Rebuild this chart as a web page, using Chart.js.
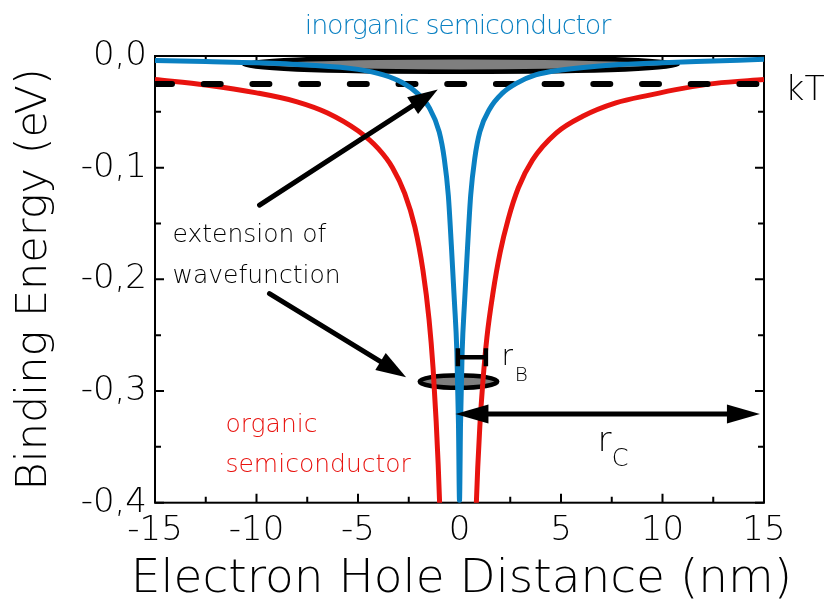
<!DOCTYPE html>
<html>
<head>
<meta charset="utf-8">
<script src="https://cdn.jsdelivr.net/npm/chart.js@4.4.1/dist/chart.umd.min.js"></script>
<style>
  html, body { margin: 0; padding: 0; background: #fff; overflow: hidden; }
  canvas { display: block; }
</style>
</head>
<body>
<canvas id="c" width="827" height="600"></canvas>
<script>
// Exciton binding energy vs. electron-hole distance
const FONT = "'DejaVu Sans', 'Liberation Sans', sans-serif";
const THIN = 200;
const BLUE = '#0a80c2';
const RED = '#e8130f';

const xTitle = 'Electron Hole Distance (nm)';
const yTitle = 'Binding Energy (eV)';
const xTickLabels = ['-15', '-10', '-5', '0', '5', '10', '15'];
const yTickLabels = ['-0,4', '-0,3', '-0,2', '-0,1', '0,0'];

// inorganic semiconductor (Wannier exciton)
const inorganicX = [-15, -12.5, -10, -7.5, -5, -3.75, -2.8, -2.1, -1.5, -1.0, -0.75, -0.55, -0.4, -0.25, -0.13, -0.05, 0,
                    0.05, 0.13, 0.25, 0.4, 0.55, 0.75, 1.0, 1.5, 2.1, 2.8, 3.75, 5, 7.5, 10, 12.5, 15];
const inorganicE = [-0.004, -0.005, -0.006, -0.008, -0.012, -0.017, -0.024, -0.033, -0.046, -0.068, -0.092, -0.125, -0.17, -0.22, -0.265, -0.33, -0.398,
                    -0.33, -0.265, -0.22, -0.17, -0.125, -0.092, -0.068, -0.047, -0.0335, -0.0245, -0.017, -0.0126, -0.008, -0.006, -0.0045, -0.003];

// organic semiconductor (Frenkel exciton), both branches
const organicLeftX = [-15, -12.5, -10, -8, -6.5, -5, -4, -3.3, -2.7, -2.2, -1.8, -1.5, -1.3, -1.15, -1.05, -0.98, -0.95];
const organicLeftE = [-0.021, -0.026, -0.033, -0.041, -0.051, -0.067, -0.083, -0.100, -0.123, -0.153, -0.192, -0.236, -0.28, -0.327, -0.366, -0.40, -0.42];
const organicRightX = [0.80, 0.83, 0.9, 1.0, 1.15, 1.35, 1.65, 2.0, 2.4, 2.9, 3.6, 4.76, 6.07, 7.7, 9.36, 11, 12.6, 15];
const organicRightE = [-0.42, -0.40, -0.368, -0.332, -0.292, -0.252, -0.212, -0.176, -0.146, -0.118, -0.093, -0.069, -0.054, -0.042, -0.035, -0.029, -0.0245, -0.021];

// thermal energy at room temperature
const kT = 0.025;

const pts = (xs, es) => xs.map((v, i) => ({ x: v, y: es[i] }));

// wavefunction extent (centre, half-axes) in data units
const wavefunctionSpots = [
  { x: 0.07, y: -0.0076, rx: 10.68, ry: 0.0065 },
  { x: -0.05, y: -0.2915, rx: 1.91, ry: 0.0056 }
];

// annotation arrows (tail -> tip) in data units
const pointers = [
  { from: [-9.85, -0.1336], to: [-1.07, -0.0299] },
  { from: [-9.36, -0.2128], to: [-2.63, -0.2876] }
];
const coulombRadius = { from: -0.2, to: 14.8, y: -0.3205 };
const bohrRadius = { from: -0.08, to: 1.3, y: -0.2697 };

const notes = [
  { text: 'inorganic semiconductor', x: -0.1, y: 0.0197, size: 27, color: BLUE, align: 'center', spacing: -1.2 },
  { text: 'kT', x: 16.05, y: -0.0394, size: 33 },
  { text: 'extension of', x: -14.14, y: -0.1668, size: 25 },
  { text: 'wavefunction', x: -14.14, y: -0.2036, size: 25 },
  { text: 'organic', x: -11.53, y: -0.337, size: 25, color: RED },
  { text: 'semiconductor', x: -11.53, y: -0.3728, size: 25, color: RED },
  { text: 'r', x: 2.07, y: -0.277, size: 28 },
  { text: 'B', x: 2.72, y: -0.2906, size: 20 },
  { text: 'r', x: 6.8, y: -0.3534, size: 34 },
  { text: 'C', x: 7.5, y: -0.3668, size: 24 }
];

function arrowHead(ctx, tx, ty, ux, uy, len, half) {
  const bx = tx - ux * len, by = ty - uy * len;
  ctx.beginPath();
  ctx.moveTo(tx, ty);
  ctx.lineTo(bx - uy * half, by + ux * half);
  ctx.lineTo(bx + uy * half, by - ux * half);
  ctx.closePath();
  ctx.fill();
}

function arrow(ctx, x0, y0, x1, y1, len, half, both) {
  const d = Math.hypot(x1 - x0, y1 - y0);
  const ux = (x1 - x0) / d, uy = (y1 - y0) / d;
  ctx.beginPath();
  ctx.moveTo(both ? x0 + ux * (len - 2) : x0, both ? y0 + uy * (len - 2) : y0);
  ctx.lineTo(x1 - ux * (len - 2), y1 - uy * (len - 2));
  ctx.stroke();
  arrowHead(ctx, x1, y1, ux, uy, len, half);
  if (both) arrowHead(ctx, x0, y0, -ux, -uy, len, half);
}

const framePlugin = {
  id: 'frame',
  beforeDatasetsDraw(chart) {
    const { ctx, chartArea: a, scales: { x, y } } = chart;
    ctx.save();
    ctx.strokeStyle = '#000';
    ctx.lineWidth = 2;
    ctx.strokeRect(a.left, a.top, a.right - a.left, a.bottom - a.top);
    ctx.beginPath();
    for (let i = 0; i <= 12; i++) {
      const v = x.min + i * 2.5;
      const px = x.getPixelForValue(v);
      const len = i % 2 === 0 ? 9 : 6;
      ctx.moveTo(px, a.bottom); ctx.lineTo(px, a.bottom - len);
      ctx.moveTo(px, a.top); ctx.lineTo(px, a.top + len);
    }
    for (let i = 0; i <= 8; i++) {
      const v = y.min + i * 0.05;
      const py = y.getPixelForValue(v);
      const len = i % 2 === 0 ? 9 : 6;
      ctx.moveTo(a.left, py); ctx.lineTo(a.left + len, py);
      ctx.moveTo(a.right, py); ctx.lineTo(a.right - len, py);
    }
    ctx.stroke();

    // wavefunction extent
    ctx.fillStyle = '#7f7f7f';
    ctx.lineWidth = 4.5;
    wavefunctionSpots.forEach(s => {
      const cx = x.getPixelForValue(s.x), cy = y.getPixelForValue(s.y);
      const rx = Math.abs(x.getPixelForValue(s.x + s.rx) - cx);
      const ry = Math.abs(y.getPixelForValue(s.y + s.ry) - cy);
      ctx.beginPath();
      ctx.ellipse(cx, cy, rx, ry, 0, 0, Math.PI * 2);
      ctx.fill();
      ctx.stroke();
    });
    ctx.restore();
  },
  afterDatasetsDraw(chart) {
    const { ctx, chartArea: a, scales: { x, y } } = chart;
    ctx.save();
    ctx.strokeStyle = '#000';
    ctx.fillStyle = '#000';
    ctx.lineWidth = 5;
    ctx.lineCap = 'round';
    pointers.forEach(p => {
      arrow(ctx, x.getPixelForValue(p.from[0]), y.getPixelForValue(p.from[1]),
            x.getPixelForValue(p.to[0]), y.getPixelForValue(p.to[1]), 30, 10, false);
    });
    const cy = y.getPixelForValue(coulombRadius.y);
    arrow(ctx, x.getPixelForValue(coulombRadius.from), cy, x.getPixelForValue(coulombRadius.to), cy, 33, 9.5, true);

    // Bohr radius bar
    const by = y.getPixelForValue(bohrRadius.y);
    const bx0 = x.getPixelForValue(bohrRadius.from), bx1 = x.getPixelForValue(bohrRadius.to);
    ctx.lineWidth = 4.5;
    ctx.lineCap = 'butt';
    ctx.beginPath();
    ctx.moveTo(bx0, by); ctx.lineTo(bx1, by);
    ctx.moveTo(bx0, by - 9); ctx.lineTo(bx0, by + 9);
    ctx.moveTo(bx1, by - 9); ctx.lineTo(bx1, by + 9);
    ctx.stroke();

    ctx.textBaseline = 'alphabetic';
    notes.forEach(n => {
      ctx.font = `${THIN} ${n.size}px ${FONT}`;
      ctx.letterSpacing = (n.spacing || 0) + 'px';
      ctx.fillStyle = n.color || '#000';
      ctx.textAlign = n.align || 'left';
      ctx.fillText(n.text, x.getPixelForValue(n.x), y.getPixelForValue(n.y));
    });
    ctx.letterSpacing = '0px';

    // x-axis title, wider than the axis itself, centred under it
    ctx.font = `${THIN} 47px ${FONT}`;
    ctx.fillStyle = '#000';
    ctx.textAlign = 'center';
    ctx.fillText(xTitle, (a.left + a.right) / 2 + 2, 592);
    ctx.restore();
  }
};

new Chart(document.getElementById('c'), {
  type: 'scatter',
  data: {
    datasets: [
      {
        label: 'inorganic semiconductor',
        data: pts(inorganicX, inorganicE),
        showLine: true, borderColor: BLUE, borderWidth: 5, pointRadius: 0,
        cubicInterpolationMode: 'monotone', clip: 0, order: 0
      },
      {
        label: 'kT',
        data: [{ x: -15, y: -kT }, { x: 15, y: -kT }],
        showLine: true, borderColor: '#000', borderWidth: 6, pointRadius: 0,
        borderDash: [17, 31.7], borderCapStyle: 'round', order: 1
      },
      {
        label: 'organic semiconductor',
        data: pts(organicLeftX, organicLeftE),
        showLine: true, borderColor: RED, borderWidth: 5, pointRadius: 0,
        cubicInterpolationMode: 'monotone', clip: 0, order: 2
      },
      {
        label: 'organic semiconductor ',
        data: pts(organicRightX, organicRightE),
        showLine: true, borderColor: RED, borderWidth: 5, pointRadius: 0,
        cubicInterpolationMode: 'monotone', clip: 0, order: 2
      }
    ]
  },
  options: {
    responsive: false,
    animation: false,
    events: [],
    layout: { padding: { top: 56, right: 63, left: 0, bottom: 0 } },
    plugins: { legend: { display: false }, tooltip: { enabled: false } },
    scales: {
      x: {
        type: 'linear', min: -15, max: 15,
        grid: { display: false, drawTicks: false },
        border: { display: false },
        ticks: {
          stepSize: 5, padding: 8, color: '#000', maxRotation: 0,
          font: { family: FONT, size: 34, weight: THIN },
          callback: (v, i) => xTickLabels[i]
        },
        title: { display: false, text: xTitle },
        afterFit(scale) { scale.height = 97.3; }
      },
      y: {
        type: 'linear', min: -0.4, max: 0,
        grid: { display: false, drawTicks: false },
        border: { display: false },
        ticks: {
          stepSize: 0.1, padding: 8, color: '#000',
          font: { family: FONT, size: 34, weight: THIN },
          callback: (v, i) => yTickLabels[i]
        },
        title: {
          display: true, text: yTitle, color: '#000',
          font: { family: FONT, size: 43, weight: THIN, lineHeight: 1 },
          padding: { top: 13, bottom: 0 }
        },
        afterFit(scale) { scale.width = 155; }
      }
    }
  },
  plugins: [framePlugin]
});
</script>
</body>
</html>
